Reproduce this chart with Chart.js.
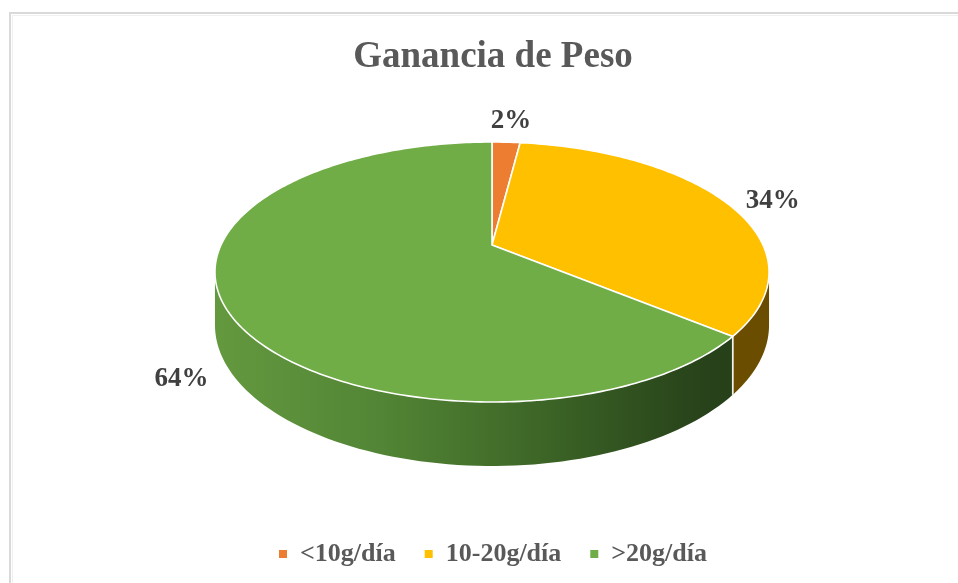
<!DOCTYPE html>
<html>
<head>
<meta charset="utf-8">
<script src="https://cdn.jsdelivr.net/npm/chart.js@4/dist/chart.umd.min.js"></script>
<style>
  html, body { margin:0; padding:0; background:#ffffff; }
  #wrap { position:relative; width:958px; height:583px; }
</style>
</head>
<body>
<div id="wrap"><canvas id="c" width="958" height="583"></canvas></div>
<script>
const categories = ['<10g/día', '10-20g/día', '>20g/día'];
const values = [2, 34, 64];
const topColors = ['#ED7D31', '#FFC000', '#70AD47'];
const chartTitle = 'Ganancia de Peso';

// 3D perspective projection of the pie (layout only)
const CX = 492, CY = 245, A = 271, B = 124.4, K = 0.2077, H = 50.7;
function proj(phi, r, drop) {
  const u = r * Math.cos(phi), v = r * Math.sin(phi), w = 1 - K * v;
  return [CX + A * u / w, CY + B * v / w + (drop ? H / w : 0)];
}
const PHI1 = Math.asin(K), PHI2 = Math.PI - Math.asin(K);

function sideFill(ctx, i) {
  const g = ctx.createLinearGradient(CX - 280, 0, CX + 280, 0);
  if (i === 2) {
    g.addColorStop(0, '#64993F');
    g.addColorStop(0.3, '#528535');
    g.addColorStop(0.6, '#3C6426');
    g.addColorStop(0.85, '#29451B');
    g.addColorStop(1, '#233B17');
  } else if (i === 1) {
    g.addColorStop(0, '#8A6500');
    g.addColorStop(1, '#6A4C00');
  } else {
    g.addColorStop(0, '#9A4A18');
    g.addColorStop(1, '#7A3A12');
  }
  return g;
}

const pie3d = {
  id: 'pie3d',
  beforeDraw(chart) {
    const ctx = chart.ctx;
    ctx.save();
    ctx.fillStyle = '#ffffff';
    ctx.fillRect(0, 0, chart.width, chart.height);
    ctx.strokeStyle = '#d9d9d9';
    ctx.lineWidth = 2;
    ctx.strokeRect(10, 13, 2000, 2000);
    ctx.strokeStyle = '#f0f0f0';
    ctx.lineWidth = 1;
    ctx.strokeRect(12.5, 15.5, 2000, 2000);
    ctx.restore();
  },
  beforeDatasetsDraw(chart) {
    const ctx = chart.ctx;
    const meta = chart.getDatasetMeta(0);
    const total = values.reduce((a, b) => a + b, 0);
    ctx.save();
    // sides
    meta.data.forEach((arc, i) => {
      const s = arc.startAngle, e = arc.endAngle;
      [0, 2 * Math.PI, -2 * Math.PI].forEach(off => {
        const a = Math.max(s + off, PHI1), b = Math.min(e + off, PHI2);
        if (b <= a) return;
        ctx.beginPath();
        const n = 80;
        for (let k = 0; k <= n; k++) {
          const p = proj(a + (b - a) * k / n, 1, false);
          k === 0 ? ctx.moveTo(p[0], p[1]) : ctx.lineTo(p[0], p[1]);
        }
        for (let k = n; k >= 0; k--) {
          const p = proj(a + (b - a) * k / n, 1, true);
          ctx.lineTo(p[0], p[1]);
        }
        ctx.closePath();
        ctx.fillStyle = sideFill(ctx, i);
        ctx.fill();
        ctx.strokeStyle = 'rgba(255,255,255,0.9)';
        ctx.lineWidth = 1.5;
        [[a, s + off], [b, e + off]].forEach(([ang, orig]) => {
          if (Math.abs(ang - orig) < 1e-6) {
            const p1 = proj(ang, 1, false), p2 = proj(ang, 1, true);
            ctx.beginPath(); ctx.moveTo(p1[0], p1[1]); ctx.lineTo(p2[0], p2[1]); ctx.stroke();
          }
        });
      });
    });
    // tops
    meta.data.forEach((arc, i) => {
      const s = arc.startAngle, e = arc.endAngle;
      ctx.beginPath();
      ctx.moveTo(CX, CY);
      const n = Math.max(8, Math.ceil((e - s) * 60));
      for (let k = 0; k <= n; k++) {
        const p = proj(s + (e - s) * k / n, 1, false);
        ctx.lineTo(p[0], p[1]);
      }
      ctx.closePath();
      ctx.fillStyle = topColors[i];
      ctx.fill();
      ctx.strokeStyle = '#ffffff';
      ctx.lineWidth = 1.6;
      ctx.lineJoin = 'round';
      ctx.stroke();
    });
    // labels
    ctx.fillStyle = '#404040';
    ctx.font = 'bold 27px "Liberation Serif"';
    ctx.textAlign = 'center';
    ctx.textBaseline = 'middle';
    meta.data.forEach((arc, i) => {
      const mid = (arc.startAngle + arc.endAngle) / 2;
      const p = proj(mid, 1, false);
      const sn = Math.sin(mid), cs = Math.cos(mid);
      const w = 1 - K * sn;
      const lx = p[0] + 48 * cs + 2;
      const ly = sn > 0 ? p[1] + 22 * sn + 1.2 * H / w : p[1] + 21 * sn * sn * sn;
      ctx.fillText(Math.round(values[i] / total * 100) + '%', lx, ly);
    });
    ctx.restore();
    return false;
  }
};

new Chart(document.getElementById('c'), {
  type: 'pie',
  data: {
    labels: categories,
    datasets: [{ data: values, backgroundColor: topColors, borderWidth: 0 }]
  },
  options: {
    responsive: false,
    animation: false,
    events: [],
    layout: { padding: { top: 0, bottom: 6, left: 28, right: 0 } },
    plugins: {
      title: {
        display: true,
        text: chartTitle,
        color: '#595959',
        font: { family: 'Liberation Serif', size: 37, weight: 'bold' },
        padding: { top: 35, bottom: 10 }
      },
      legend: {
        position: 'bottom',
        labels: {
          boxWidth: 8, boxHeight: 8, padding: 29,
          color: '#595959',
          font: { family: 'Liberation Serif', size: 26, weight: 'bold' }
        }
      },
      tooltip: { enabled: false }
    }
  },
  plugins: [pie3d]
});
</script>
</body>
</html>
